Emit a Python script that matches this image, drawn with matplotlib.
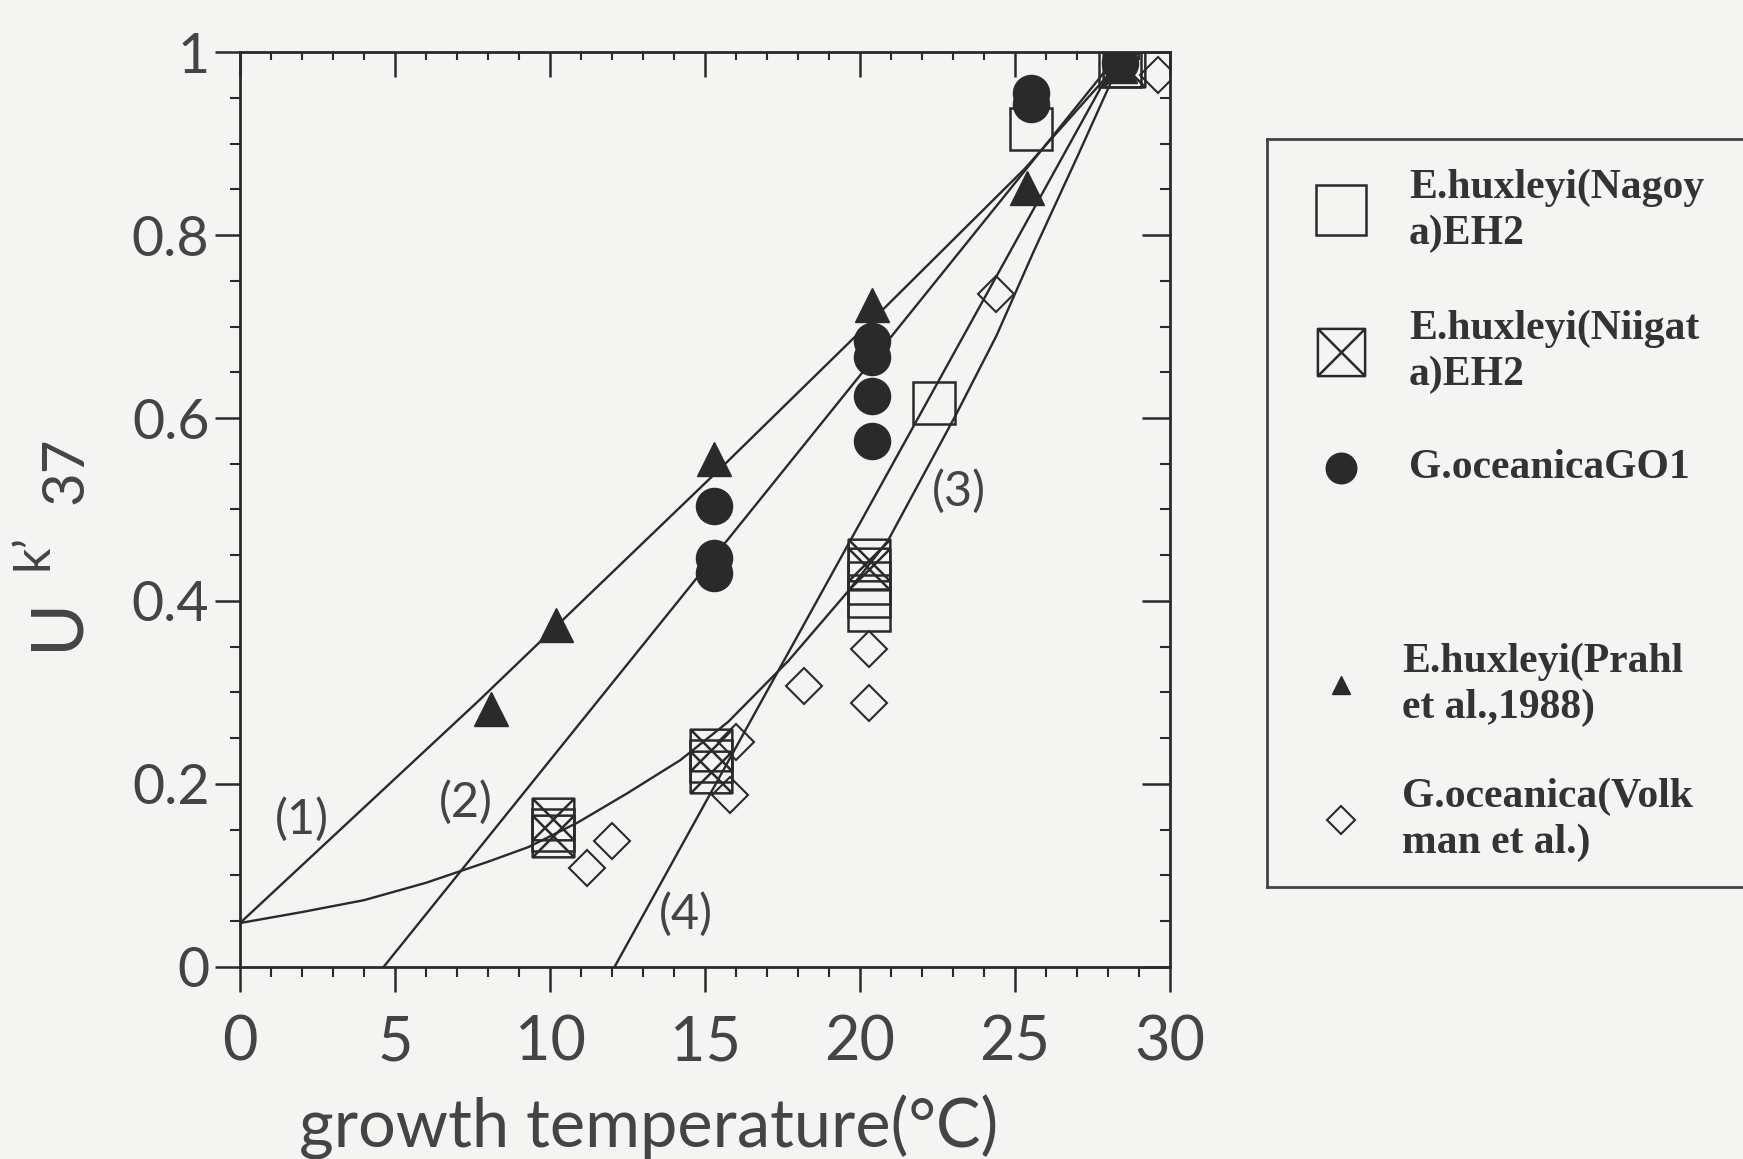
import matplotlib
matplotlib.use("Agg")
import matplotlib.pyplot as plt
from matplotlib.path import Path
from matplotlib.ticker import MultipleLocator

plt.rcParams['font.family'] = ['Lato', 'DejaVu Sans']

# measured data (growth temperature in degC, U^k'_37)
nagoya_t = [10.1, 15.2, 20.3, 20.3, 20.3, 22.4, 25.5, 28.4]
nagoya_u = [0.150, 0.225, 0.390, 0.405, 0.420, 0.616, 0.916, 0.985]
niigata_t = [10.1, 10.1, 15.2, 15.2, 20.3, 20.3, 28.5]
niigata_u = [0.143, 0.162, 0.213, 0.237, 0.435, 0.445, 0.985]
go1_t = [15.3, 15.3, 15.3, 20.4, 20.4, 20.4, 20.4, 25.5, 25.5, 28.4]
go1_u = [0.504, 0.447, 0.431, 0.684, 0.667, 0.624, 0.575, 0.955, 0.943, 0.988]
prahl_t = [8.1, 10.2, 15.3, 20.4, 25.4, 28.4]
prahl_u = [0.282, 0.374, 0.555, 0.724, 0.851, 0.985]
volkman_t = [11.2, 12.0, 15.8, 16.0, 18.2, 20.3, 20.3, 24.4, 29.6]
volkman_u = [0.108, 0.138, 0.188, 0.246, 0.307, 0.348, 0.288, 0.735, 0.975]

# calibration curves (1)-(4)
curve1_t = [0, 7.7, 15.5, 20.9, 25.3, 28.4]
curve1_u = [0.048, 0.291, 0.545, 0.724, 0.872, 0.99]
curve2_t = [4.63, 28.4]
curve2_u = [0.0, 1.0]
curve3_t = [0, 2, 4, 6, 8, 9.3, 10.9, 12.5, 14.2, 15.75, 17.7, 19.6, 20.9, 22.0, 23.1, 24.4, 25.6, 27.0, 28.4]
curve3_u = [0.048, 0.060, 0.073, 0.092, 0.115, 0.131, 0.158, 0.190, 0.226, 0.268, 0.335, 0.410, 0.466, 0.535, 0.604, 0.690, 0.782, 0.885, 0.99]
curve4_t = [12.08, 28.4]
curve4_u = [0.0, 1.0]

curve_names = ["(1)", "(2)", "(3)", "(4)"]
x_ticks = [0, 5, 10, 15, 20, 25, 30]
x_ticklabels = ["0", "5", "10", "15", "20", "25", "30"]
y_ticks = [0, 0.2, 0.4, 0.6, 0.8, 1.0]
y_ticklabels = ["0", "0.2", "0.4", "0.6", "0.8", "1"]

legend_labels = ["E.huxleyi(Nagoy\na)EH2", "E.huxleyi(Niigat\na)EH2", "G.oceanicaGO1",
                 "E.huxleyi(Prahl\net al.,1988)", "G.oceanica(Volk\nman et al.)"]

ink = '#2a2a2a'
txt = '#444444'
bg = '#f4f4f2'

# square with an X inside
xsq = Path([(-1, -1), (1, -1), (1, 1), (-1, 1), (-1, -1), (-1, -1), (1, 1), (-1, 1), (1, -1)],
           [Path.MOVETO, Path.LINETO, Path.LINETO, Path.LINETO, Path.CLOSEPOLY,
            Path.MOVETO, Path.LINETO, Path.MOVETO, Path.LINETO])

fig = plt.figure(figsize=(17.43, 11.59), dpi=100, facecolor=bg)
ax = fig.add_axes([0.1377, 0.1657, 0.5336, 0.7894], facecolor=bg)

for t, u in [(curve1_t, curve1_u), (curve2_t, curve2_u), (curve3_t, curve3_u), (curve4_t, curve4_u)]:
    ax.plot(t, u, color=ink, lw=1.7, zorder=2)

ax.plot(nagoya_t, nagoya_u, ls='none', marker='s', ms=30, mfc='none', mec=ink, mew=1.8, zorder=3)
ax.plot(niigata_t, niigata_u, ls='none', marker=xsq, ms=30, mfc='none', mec=ink, mew=1.8, zorder=3)
ax.plot(go1_t, go1_u, ls='none', marker='o', ms=26, mfc=ink, mec=ink, zorder=4)
ax.plot(prahl_t, prahl_u, ls='none', marker='^', ms=24, mfc=ink, mec=ink, zorder=4)
ax.plot(volkman_t, volkman_u, ls='none', marker='D', ms=18, mfc='none', mec=ink, mew=1.5, zorder=3)

for name, (tx, ty) in zip(curve_names, [(2.0, 0.161), (7.27, 0.18), (23.2, 0.52), (14.39, 0.057)]):
    ax.text(tx, ty, name, fontsize=35, color=txt, ha='center', va='center', zorder=5)

ax.set_xlim(0, 30)
ax.set_ylim(0, 1)
for s in ax.spines.values():
    s.set_color(ink)
    s.set_linewidth(2)

ax.set_xticks(x_ticks)
ax.set_xticklabels(x_ticklabels)
ax.set_yticks(y_ticks)
ax.set_yticklabels(y_ticklabels)
ax.xaxis.set_minor_locator(MultipleLocator(1))
ax.yaxis.set_minor_locator(MultipleLocator(0.05))
ax.tick_params(axis='x', which='major', direction='out', length=18, width=1.8, color=ink,
               labelsize=44, labelcolor=txt, pad=16)
ax.tick_params(axis='x', which='minor', direction='out', length=7, width=1.5, color=ink)
ax.tick_params(axis='y', which='major', direction='out', length=18, width=1.8, color=ink,
               labelsize=40, labelcolor=txt, pad=4)
ax.tick_params(axis='y', which='minor', direction='out', length=7, width=1.5, color=ink)

# inward ticks on top and right
top = ax.secondary_xaxis('top')
top.set_xticks(x_ticks)
top.xaxis.set_minor_locator(MultipleLocator(1))
top.tick_params(which='major', direction='in', length=18, width=1.8, color=ink, labeltop=False)
top.tick_params(which='minor', direction='in', length=6, width=1.5, color=ink)
top.spines['top'].set_visible(False)
right = ax.secondary_yaxis('right')
right.set_yticks(y_ticks)
right.yaxis.set_minor_locator(MultipleLocator(0.05))
right.tick_params(which='major', direction='in', length=20, width=1.8, color=ink, labelright=False)
right.tick_params(which='minor', direction='in', length=7, width=1.5, color=ink)
right.spines['right'].set_visible(False)

fig.text(0.372, 0.027, "growth temperature(°C)", fontsize=48, color=txt, ha='center', va='center')
# y label U^k'_37 built from three pieces, rotated
fig.text(0.0327, 0.462, "U", fontsize=52, color=txt, rotation=90, ha='center', va='center')
fig.text(0.019, 0.524, "k\u2019", fontsize=36, color=txt, rotation=90, ha='center', va='center')
fig.text(0.038, 0.594, "37", fontsize=42, color=txt, rotation=90, ha='center', va='center')

# legend drawn as a framed panel to the right
lg = fig.add_axes([0.7269, 0.2347, 0.283, 0.645], facecolor=bg)
lg.set_xlim(0, 1)
lg.set_ylim(0, 1)
lg.set_xticks([])
lg.set_yticks([])
for s in lg.spines.values():
    s.set_color('#444')
    s.set_linewidth(2)
leg_markers = [dict(marker='s', ms=36, mfc='none', mew=1.8), dict(marker=xsq, ms=34, mfc='none', mew=1.8),
               dict(marker='o', ms=22, mfc=ink), dict(marker='^', ms=13, mfc=ink),
               dict(marker='D', ms=14, mfc='none', mew=1.5)]
leg_y = [0.905, 0.716, 0.561, 0.27, 0.09]
leg_tx = [0.288, 0.288, 0.288, 0.274, 0.274]
for lab, mk, yy, xx in zip(legend_labels, leg_markers, leg_y, leg_tx):
    lg.plot([0.15], [yy], ls='none', mec=ink, **mk)
    lg.text(xx, yy, lab, fontsize=30, family='Liberation Serif', weight='bold', color='#333',
            ha='left', va='center', linespacing=1.25)

fig.savefig("out.png", dpi=100, facecolor=bg)
